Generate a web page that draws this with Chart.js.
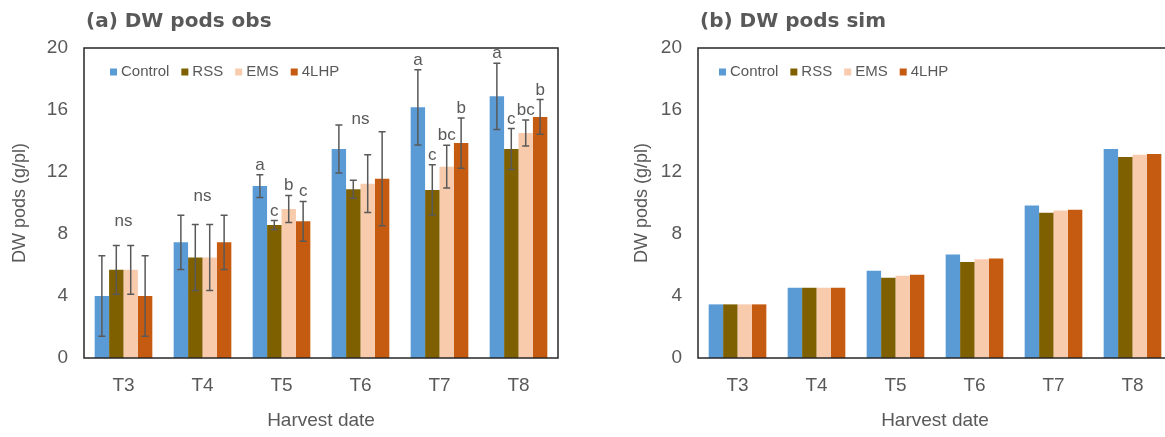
<!DOCTYPE html>
<html>
<head>
<meta charset="utf-8">
<script src="https://cdn.jsdelivr.net/npm/chart.js@4.4.1/dist/chart.umd.min.js"></script>
<style>
  html, body { margin: 0; padding: 0; background: #fff; width: 1165px; height: 437px; overflow: hidden; }
  canvas { position: absolute; top: 0; }
  #obs { left: 0; }
  #sim { left: 614px; }
</style>
</head>
<body>
<canvas id="obs" width="600" height="437"></canvas>
<canvas id="sim" width="600" height="437"></canvas>
<script>
const harvest = ['T3', 'T4', 'T5', 'T6', 'T7', 'T8'];
const treatments = ['Control', 'RSS', 'EMS', '4LHP'];
const colors = ['#5B9BD5', '#7F6000', '#F8CBAD', '#C55A11'];

// (a) observed means
const obsControl = [4.0, 7.46, 11.09, 13.48, 16.17, 16.88];
const obsRSS     = [5.69, 6.49, 8.58, 10.88, 10.84, 13.48];
const obsEMS     = [5.69, 6.49, 9.62, 11.25, 12.34, 14.52];
const obs4LHP    = [4.0, 7.46, 8.82, 11.57, 13.87, 15.55];

// error bars (+/-)
const errControl = [2.6, 1.75, 0.74, 1.55, 2.42, 2.13];
const errRSS     = [1.57, 2.13, 0.29, 0.58, 1.62, 1.32];
const errEMS     = [1.57, 2.13, 0.87, 1.86, 1.38, 0.84];
const err4LHP    = [2.6, 1.75, 1.28, 3.03, 1.62, 1.12];

// significance letters
const sigControl = ['', '', 'a', '', 'a', 'a'];
const sigRSS     = ['', '', 'c', '', 'c', 'c'];
const sigEMS     = ['', '', 'b', '', 'bc', 'bc'];
const sig4LHP    = ['', '', 'c', '', 'b', 'b'];
const nsText  = ['ns', 'ns', '', 'ns', '', ''];
const nsLevel = [8.8, 10.4, null, 15.4, null, null];

// (b) simulated
const simControl = [3.46, 4.53, 5.63, 6.67, 9.84, 13.48];
const simRSS     = [3.46, 4.53, 5.18, 6.20, 9.37, 12.96];
const simEMS     = [3.46, 4.53, 5.30, 6.37, 9.52, 13.11];
const sim4LHP    = [3.46, 4.53, 5.37, 6.42, 9.56, 13.16];

const yMin = 0, yMax = 20, yStep = 4;

const grey = '#595959';
Chart.defaults.font.family = "'Liberation Sans', Arial, sans-serif";
Chart.defaults.color = grey;

// frame, title, legend, error bars, letters
const panelDecor = {
  id: 'panelDecor',
  afterDatasetsDraw(chart, args, opts) {
    const ctx = chart.ctx;
    const y = chart.scales.y, x = chart.scales.x;
    const a = chart.chartArea;
    ctx.save();
    ctx.strokeStyle = '#595959';
    ctx.lineWidth = 1.5;
    ctx.fillStyle = grey;
    ctx.font = "17px 'Liberation Sans', Arial, sans-serif";
    ctx.textAlign = 'center';
    ctx.textBaseline = 'alphabetic';
    chart.data.datasets.forEach((ds, i) => {
      if (!ds.errors) return;
      chart.getDatasetMeta(i).data.forEach((bar, j) => {
        const v = ds.data[j], e = ds.errors[j];
        const top = y.getPixelForValue(v + e);
        const bot = y.getPixelForValue(v - e);
        ctx.beginPath();
        ctx.moveTo(bar.x, top); ctx.lineTo(bar.x, bot);
        ctx.moveTo(bar.x - 3.5, top); ctx.lineTo(bar.x + 3.5, top);
        ctx.moveTo(bar.x - 3.5, bot); ctx.lineTo(bar.x + 3.5, bot);
        ctx.stroke();
        if (ds.letters && ds.letters[j]) {
          ctx.fillText(ds.letters[j], bar.x, top - 5);
        }
      });
    });
    if (opts.ns) {
      ctx.textBaseline = 'middle';
      opts.ns.forEach((t, j) => {
        if (!t) return;
        ctx.fillText(t, x.getPixelForValue(j), y.getPixelForValue(opts.nsLevel[j]));
      });
    }
    // plot frame
    ctx.strokeStyle = '#262626';
    ctx.lineWidth = 1.5;
    ctx.strokeRect(a.left, a.top, a.right - a.left, a.bottom - a.top);
    // title
    ctx.textAlign = 'left';
    ctx.textBaseline = 'alphabetic';
    ctx.fillStyle = grey;
    ctx.font = "bold 20px 'DejaVu Sans', sans-serif";
    ctx.fillText(opts.title, a.left + 2, 27);
    // legend
    ctx.font = "15px 'Liberation Sans', Arial, sans-serif";
    ctx.textBaseline = 'middle';
    let lx = a.left + opts.legendX;
    const ly = 72;
    chart.data.datasets.forEach(ds => {
      ctx.fillStyle = ds.backgroundColor;
      ctx.fillRect(lx, ly - 3.5, 7, 7);
      ctx.fillStyle = grey;
      ctx.fillText(ds.label, lx + 11, ly);
      lx += 11 + ctx.measureText(ds.label).width + 12;
    });
    ctx.restore();
  }
};

function makeSets(values, errors, letters) {
  return treatments.map((t, i) => ({
    label: t,
    data: values[i],
    errors: errors ? errors[i] : null,
    letters: letters ? letters[i] : null,
    backgroundColor: colors[i],
    borderWidth: 0
  }));
}

function makeOptions(decor, yTitlePad) {
  return {
    responsive: false,
    animation: false,
    layout: { padding: { top: 48, right: 42, left: 0, bottom: 0 } },
    datasets: { bar: { categoryPercentage: 0.73, barPercentage: 1.0 } },
    plugins: {
      legend: { display: false },
      tooltip: { enabled: false },
      panelDecor: decor
    },
    scales: {
      x: {
        grid: { display: false, drawTicks: false },
        border: { display: false },
        ticks: { padding: 16, font: { size: 19 }, color: grey },
        title: { display: true, text: 'Harvest date', font: { size: 19 }, color: grey, padding: { top: 0, bottom: 5 } },
        afterFit: s => { s.height = 79; }
      },
      y: {
        min: yMin, max: yMax,
        grid: { display: false, drawTicks: false },
        border: { display: false },
        ticks: { stepSize: yStep, padding: 16, font: { size: 19 }, color: grey },
        title: { display: true, text: 'DW pods (g/pl)', font: { size: 18 }, color: grey, padding: { top: yTitlePad, bottom: 0 } },
        afterFit: s => { s.width = 84; }
      }
    }
  };
}

new Chart(document.getElementById('obs'), {
  type: 'bar',
  data: {
    labels: harvest,
    datasets: makeSets(
      [obsControl, obsRSS, obsEMS, obs4LHP],
      [errControl, errRSS, errEMS, err4LHP],
      [sigControl, sigRSS, sigEMS, sig4LHP])
  },
  options: makeOptions({ title: '(a) DW pods obs', legendX: 26, ns: nsText, nsLevel: nsLevel }, 9),
  plugins: [panelDecor]
});

new Chart(document.getElementById('sim'), {
  type: 'bar',
  data: {
    labels: harvest,
    datasets: makeSets([simControl, simRSS, simEMS, sim4LHP])
  },
  options: makeOptions({ title: '(b) DW pods sim', legendX: 21 }, 17),
  plugins: [panelDecor]
});
</script>
</body>
</html>
